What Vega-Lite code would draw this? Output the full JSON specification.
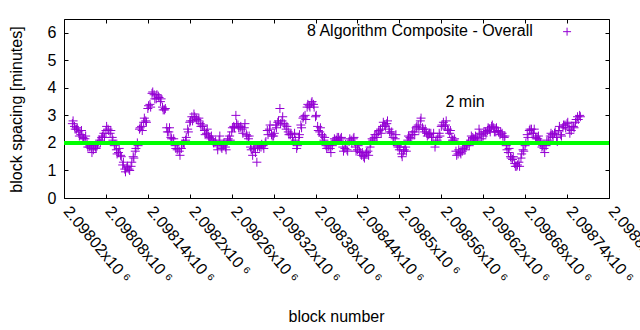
{
  "$schema": "https://vega.github.io/schema/vega-lite/v6.json",
  "width": 545,
  "height": 179,
  "autosize": {"type": "none"},
  "padding": {"left": 64, "top": 19, "right": 31, "bottom": 132},
  "background": "white",
  "config": {
    "view": {"stroke": "black", "strokeWidth": 1},
    "font": "Liberation Sans",
    "axis": {"grid": false, "domain": false, "tickColor": "black", "labelColor": "black", "titleColor": "black", "labelFont": "Liberation Sans", "titleFont": "Liberation Sans", "labelFontSize": 16, "titleFontSize": 16, "titleFontWeight": "normal", "labelOverlap": false, "labelBound": false, "labelFlush": false}
  },
  "datasets": {
    "pts": [
      {"b":2098032,"v":2.7},{"b":2098035,"v":2.6},{"b":2098038,"v":2.5},{"b":2098041,"v":2.4},{"b":2098044,"v":2.3},{"b":2098047,"v":2.2},{"b":2098050,"v":2.15},{"b":2098053,"v":1.95},{"b":2098056,"v":1.85},{"b":2098059,"v":1.8},
      {"b":2098062,"v":1.75},{"b":2098065,"v":1.85},{"b":2098068,"v":1.95},{"b":2098071,"v":2.1},{"b":2098074,"v":2.2},{"b":2098077,"v":2.35},{"b":2098080,"v":2.45},{"b":2098083,"v":2.5},{"b":2098086,"v":2.35},{"b":2098089,"v":2.2},
      {"b":2098092,"v":1.9},{"b":2098095,"v":1.75},{"b":2098098,"v":1.65},{"b":2098101,"v":1.55},{"b":2098104,"v":1.2},{"b":2098107,"v":1.05},{"b":2098110,"v":1.1},{"b":2098113,"v":1.05},{"b":2098116,"v":1.15},{"b":2098119,"v":1.5},
      {"b":2098122,"v":1.7},{"b":2098125,"v":2.0},{"b":2098128,"v":2.5},{"b":2098131,"v":2.6},{"b":2098134,"v":2.75},{"b":2098137,"v":2.8},{"b":2098140,"v":3.25},{"b":2098143,"v":3.4},{"b":2098146,"v":3.8},{"b":2098149,"v":3.75},
      {"b":2098152,"v":3.6},{"b":2098155,"v":3.7},{"b":2098158,"v":3.5},{"b":2098161,"v":3.3},{"b":2098164,"v":3.2},{"b":2098167,"v":2.55},{"b":2098170,"v":2.4},{"b":2098173,"v":2.2},{"b":2098176,"v":2.05},{"b":2098179,"v":1.9},
      {"b":2098182,"v":1.75},{"b":2098185,"v":1.7},{"b":2098188,"v":1.8},{"b":2098191,"v":2.0},{"b":2098194,"v":2.1},{"b":2098197,"v":2.5},{"b":2098200,"v":2.75},{"b":2098203,"v":2.95},{"b":2098206,"v":3.05},{"b":2098209,"v":2.9},
      {"b":2098212,"v":2.8},{"b":2098215,"v":2.7},{"b":2098218,"v":2.6},{"b":2098221,"v":2.45},{"b":2098224,"v":2.35},{"b":2098227,"v":2.25},{"b":2098230,"v":2.15},{"b":2098233,"v":2.1},{"b":2098236,"v":2.0},{"b":2098239,"v":1.9},
      {"b":2098242,"v":2.1},{"b":2098245,"v":1.85},{"b":2098248,"v":1.9},{"b":2098251,"v":1.85},{"b":2098254,"v":2.1},{"b":2098257,"v":2.25},{"b":2098260,"v":2.4},{"b":2098263,"v":2.6},{"b":2098266,"v":3.0},{"b":2098269,"v":2.65},
      {"b":2098272,"v":2.55},{"b":2098275,"v":2.5},{"b":2098278,"v":2.55},{"b":2098281,"v":2.3},{"b":2098284,"v":2.15},{"b":2098287,"v":1.85},{"b":2098290,"v":1.55},{"b":2098293,"v":1.8},{"b":2098296,"v":1.3},{"b":2098299,"v":1.9},
      {"b":2098302,"v":1.85},{"b":2098305,"v":1.9},{"b":2098308,"v":2.0},{"b":2098311,"v":2.45},{"b":2098314,"v":2.5},{"b":2098317,"v":2.3},{"b":2098320,"v":2.25},{"b":2098323,"v":2.65},{"b":2098326,"v":2.75},{"b":2098329,"v":3.25},
      {"b":2098332,"v":2.8},{"b":2098335,"v":2.7},{"b":2098338,"v":2.5},{"b":2098341,"v":2.4},{"b":2098344,"v":2.3},{"b":2098347,"v":2.2},{"b":2098350,"v":2.35},{"b":2098353,"v":1.8},{"b":2098356,"v":2.2},{"b":2098359,"v":2.65},
      {"b":2098362,"v":2.9},{"b":2098365,"v":3.0},{"b":2098368,"v":3.3},{"b":2098371,"v":3.35},{"b":2098374,"v":3.45},{"b":2098377,"v":3.4},{"b":2098380,"v":2.95},{"b":2098383,"v":2.6},{"b":2098386,"v":2.4},{"b":2098389,"v":2.3},
      {"b":2098392,"v":2.1},{"b":2098395,"v":1.9},{"b":2098398,"v":1.85},{"b":2098401,"v":1.8},{"b":2098404,"v":1.9},{"b":2098407,"v":2.15},{"b":2098410,"v":2.1},{"b":2098413,"v":2.2},{"b":2098416,"v":2.15},{"b":2098419,"v":1.85},
      {"b":2098422,"v":1.8},{"b":2098425,"v":1.75},{"b":2098428,"v":2.05},{"b":2098431,"v":2.1},{"b":2098434,"v":2.15},{"b":2098437,"v":1.85},{"b":2098440,"v":1.75},{"b":2098443,"v":1.7},{"b":2098446,"v":1.55},{"b":2098449,"v":1.5},
      {"b":2098452,"v":1.6},{"b":2098455,"v":1.7},{"b":2098458,"v":1.85},{"b":2098461,"v":2.15},{"b":2098464,"v":2.2},{"b":2098467,"v":2.3},{"b":2098470,"v":2.4},{"b":2098473,"v":2.5},{"b":2098476,"v":2.6},{"b":2098479,"v":2.65},
      {"b":2098482,"v":2.7},{"b":2098485,"v":2.5},{"b":2098488,"v":2.35},{"b":2098491,"v":2.2},{"b":2098494,"v":2.15},{"b":2098497,"v":1.9},{"b":2098500,"v":1.75},{"b":2098503,"v":1.6},{"b":2098506,"v":1.7},{"b":2098509,"v":1.85},
      {"b":2098512,"v":2.1},{"b":2098515,"v":2.2},{"b":2098518,"v":2.3},{"b":2098521,"v":2.4},{"b":2098524,"v":2.55},{"b":2098527,"v":2.65},{"b":2098530,"v":2.8},{"b":2098533,"v":2.55},{"b":2098536,"v":2.4},{"b":2098539,"v":2.35},
      {"b":2098542,"v":2.3},{"b":2098545,"v":2.35},{"b":2098548,"v":2.2},{"b":2098551,"v":1.85},{"b":2098554,"v":2.1},{"b":2098557,"v":2.35},{"b":2098560,"v":2.6},{"b":2098563,"v":2.75},{"b":2098566,"v":2.65},{"b":2098569,"v":2.5},
      {"b":2098572,"v":2.35},{"b":2098575,"v":2.2},{"b":2098578,"v":2.1},{"b":2098581,"v":1.7},{"b":2098584,"v":1.6},{"b":2098587,"v":1.65},{"b":2098590,"v":1.7},{"b":2098593,"v":1.85},{"b":2098596,"v":1.9},{"b":2098599,"v":2.05},
      {"b":2098602,"v":2.1},{"b":2098605,"v":2.2},{"b":2098608,"v":2.15},{"b":2098611,"v":2.2},{"b":2098614,"v":2.5},{"b":2098617,"v":2.3},{"b":2098620,"v":2.25},{"b":2098623,"v":2.4},{"b":2098626,"v":2.45},{"b":2098629,"v":2.5},
      {"b":2098632,"v":2.6},{"b":2098635,"v":2.55},{"b":2098638,"v":2.4},{"b":2098641,"v":2.45},{"b":2098644,"v":2.3},{"b":2098647,"v":2.35},{"b":2098650,"v":2.2},{"b":2098653,"v":1.9},{"b":2098656,"v":1.65},{"b":2098659,"v":1.5},
      {"b":2098662,"v":1.4},{"b":2098665,"v":1.25},{"b":2098668,"v":1.15},{"b":2098671,"v":1.3},{"b":2098674,"v":1.45},{"b":2098677,"v":1.75},{"b":2098680,"v":1.9},{"b":2098683,"v":2.3},{"b":2098686,"v":2.45},{"b":2098689,"v":2.5},
      {"b":2098692,"v":2.35},{"b":2098695,"v":2.2},{"b":2098698,"v":2.15},{"b":2098701,"v":2.1},{"b":2098704,"v":1.85},{"b":2098707,"v":1.8},{"b":2098710,"v":1.9},{"b":2098713,"v":2.1},{"b":2098716,"v":2.25},{"b":2098719,"v":2.3},
      {"b":2098722,"v":2.35},{"b":2098725,"v":2.2},{"b":2098728,"v":2.45},{"b":2098731,"v":2.3},{"b":2098734,"v":2.55},{"b":2098737,"v":2.65},{"b":2098740,"v":2.7},{"b":2098743,"v":2.5},{"b":2098746,"v":2.45},{"b":2098749,"v":2.6},
      {"b":2098752,"v":2.75},{"b":2098755,"v":2.95},{"b":2098758,"v":3.0},
      {"b":2098033,"v":2.8},{"b":2098036,"v":2.5},{"b":2098039,"v":2.55},{"b":2098042,"v":2.25},{"b":2098045,"v":2.45},{"b":2098048,"v":2.15},{"b":2098051,"v":2.25},{"b":2098054,"v":1.85},{"b":2098057,"v":1.9},{"b":2098060,"v":1.65},
      {"b":2098063,"v":1.9},{"b":2098066,"v":1.8},{"b":2098069,"v":2.05},{"b":2098072,"v":2.0},{"b":2098075,"v":2.25},{"b":2098078,"v":2.2},{"b":2098081,"v":2.6},{"b":2098084,"v":2.45},{"b":2098087,"v":2.45},{"b":2098090,"v":2.1},
      {"b":2098093,"v":1.95},{"b":2098096,"v":1.6},{"b":2098099,"v":1.8},{"b":2098102,"v":1.5},{"b":2098105,"v":1.3},{"b":2098108,"v":0.95},{"b":2098111,"v":1.15},{"b":2098114,"v":1.0},{"b":2098117,"v":1.3},{"b":2098120,"v":1.45},
      {"b":2098123,"v":1.8},{"b":2098126,"v":1.9},{"b":2098129,"v":2.55},{"b":2098132,"v":2.45},{"b":2098135,"v":2.9},{"b":2098138,"v":2.75},{"b":2098141,"v":3.35},{"b":2098144,"v":3.3},{"b":2098147,"v":3.85},{"b":2098150,"v":3.6},
      {"b":2098153,"v":3.75},{"b":2098156,"v":3.65},{"b":2098159,"v":3.6},{"b":2098162,"v":3.2},{"b":2098165,"v":3.25},{"b":2098168,"v":2.4},{"b":2098171,"v":2.55},{"b":2098174,"v":2.15},{"b":2098177,"v":2.15},{"b":2098180,"v":1.8},
      {"b":2098183,"v":1.8},{"b":2098186,"v":1.55},{"b":2098189,"v":1.95},{"b":2098192,"v":1.95},{"b":2098195,"v":2.2},{"b":2098198,"v":2.4},{"b":2098201,"v":2.8},{"b":2098204,"v":2.8},{"b":2098207,"v":2.95},{"b":2098210,"v":2.85},
      {"b":2098213,"v":2.9},{"b":2098216,"v":2.6},{"b":2098219,"v":2.65},{"b":2098222,"v":2.3},{"b":2098225,"v":2.5},{"b":2098228,"v":2.2},{"b":2098231,"v":2.25},{"b":2098234,"v":2.0},{"b":2098237,"v":2.05},{"b":2098240,"v":1.75},
      {"b":2098243,"v":2.25},{"b":2098246,"v":1.8},{"b":2098249,"v":2.0},{"b":2098252,"v":1.75},{"b":2098255,"v":2.15},{"b":2098258,"v":2.1},{"b":2098261,"v":2.55},{"b":2098264,"v":2.55},{"b":2098267,"v":2.7},{"b":2098270,"v":2.55},
      {"b":2098273,"v":2.6},{"b":2098276,"v":2.35},{"b":2098279,"v":2.7},{"b":2098282,"v":2.25},{"b":2098285,"v":2.25},{"b":2098288,"v":1.75},{"b":2098291,"v":1.8},{"b":2098294,"v":1.65},{"b":2098297,"v":1.85},{"b":2098300,"v":1.85},
      {"b":2098303,"v":1.95},{"b":2098306,"v":1.8},{"b":2098309,"v":2.05},{"b":2098312,"v":2.3},{"b":2098315,"v":2.65},{"b":2098318,"v":2.25},{"b":2098321,"v":2.35},{"b":2098324,"v":2.55},{"b":2098327,"v":2.8},{"b":2098330,"v":2.7},
      {"b":2098333,"v":2.95},{"b":2098336,"v":2.65},{"b":2098339,"v":2.6},{"b":2098342,"v":2.3},{"b":2098345,"v":2.35},{"b":2098348,"v":2.05},{"b":2098351,"v":2.1},{"b":2098354,"v":1.9},{"b":2098357,"v":2.3},{"b":2098360,"v":2.55},
      {"b":2098363,"v":2.95},{"b":2098366,"v":2.85},{"b":2098369,"v":3.4},{"b":2098372,"v":3.3},{"b":2098375,"v":3.5},{"b":2098378,"v":3.3},{"b":2098381,"v":3.0},{"b":2098384,"v":2.45},{"b":2098387,"v":2.55},{"b":2098390,"v":2.25},
      {"b":2098393,"v":2.2},{"b":2098396,"v":1.8},{"b":2098399,"v":1.9},{"b":2098402,"v":1.65},{"b":2098405,"v":2.05},{"b":2098408,"v":2.1},{"b":2098411,"v":2.2},{"b":2098414,"v":2.1},{"b":2098417,"v":2.2},{"b":2098420,"v":1.7},
      {"b":2098423,"v":1.95},{"b":2098426,"v":1.7},{"b":2098429,"v":2.15},{"b":2098432,"v":2.0},{"b":2098435,"v":2.2},{"b":2098438,"v":1.7},{"b":2098441,"v":1.9},{"b":2098444,"v":1.65},{"b":2098447,"v":1.65},{"b":2098450,"v":1.45},
      {"b":2098453,"v":1.65},{"b":2098456,"v":1.55},{"b":2098459,"v":2.0},{"b":2098462,"v":2.1},{"b":2098465,"v":2.3},{"b":2098468,"v":2.2},{"b":2098471,"v":2.45},{"b":2098474,"v":2.35},{"b":2098477,"v":2.75},{"b":2098480,"v":2.6},
      {"b":2098483,"v":2.8},{"b":2098486,"v":2.4},{"b":2098489,"v":2.4},{"b":2098492,"v":2.05},{"b":2098495,"v":2.3},{"b":2098498,"v":1.85},{"b":2098501,"v":1.85},{"b":2098504,"v":1.5},{"b":2098507,"v":1.75},{"b":2098510,"v":1.7},
      {"b":2098513,"v":2.25},{"b":2098516,"v":2.15},{"b":2098519,"v":2.4},{"b":2098522,"v":2.3},{"b":2098525,"v":2.6},{"b":2098528,"v":2.5},{"b":2098531,"v":2.9},{"b":2098534,"v":2.5},{"b":2098537,"v":2.5},{"b":2098540,"v":2.25},
      {"b":2098543,"v":2.35},{"b":2098546,"v":2.2},{"b":2098549,"v":2.35},{"b":2098552,"v":2.05},{"b":2098555,"v":2.2},{"b":2098558,"v":2.25},{"b":2098561,"v":2.65},{"b":2098564,"v":2.6},{"b":2098567,"v":2.8},{"b":2098570,"v":2.45},
      {"b":2098573,"v":2.45},{"b":2098576,"v":2.1},{"b":2098579,"v":2.15},{"b":2098582,"v":1.55},{"b":2098585,"v":1.75},{"b":2098588,"v":1.6},{"b":2098591,"v":1.8},{"b":2098594,"v":1.75},{"b":2098597,"v":1.95},{"b":2098600,"v":1.9},
      {"b":2098603,"v":2.25},{"b":2098606,"v":2.15},{"b":2098609,"v":2.25},{"b":2098612,"v":2.1},{"b":2098615,"v":2.35},{"b":2098618,"v":2.15},{"b":2098621,"v":2.4},{"b":2098624,"v":2.35},{"b":2098627,"v":2.55},{"b":2098630,"v":2.4},
      {"b":2098633,"v":2.65},{"b":2098636,"v":2.4},{"b":2098639,"v":2.55},{"b":2098642,"v":2.4},{"b":2098645,"v":2.4},{"b":2098648,"v":2.25},{"b":2098651,"v":2.25},{"b":2098654,"v":1.75},{"b":2098657,"v":1.8},{"b":2098660,"v":1.45},
      {"b":2098663,"v":1.5},{"b":2098666,"v":1.15},{"b":2098669,"v":1.2},{"b":2098672,"v":1.15},{"b":2098675,"v":1.6},{"b":2098678,"v":1.7},{"b":2098681,"v":2.0},{"b":2098684,"v":2.2},{"b":2098687,"v":2.5},{"b":2098690,"v":2.35},
      {"b":2098693,"v":2.5},{"b":2098696,"v":2.15},{"b":2098699,"v":2.25},{"b":2098702,"v":2.0},{"b":2098705,"v":1.9},{"b":2098708,"v":1.65},{"b":2098711,"v":2.05},{"b":2098714,"v":2.05},{"b":2098717,"v":2.35},{"b":2098720,"v":2.2},
      {"b":2098723,"v":2.4},{"b":2098726,"v":2.05},{"b":2098729,"v":2.6},{"b":2098732,"v":2.25},{"b":2098735,"v":2.65},{"b":2098738,"v":2.55},{"b":2098741,"v":2.75},{"b":2098744,"v":2.35},{"b":2098747,"v":2.6},{"b":2098750,"v":2.55},
      {"b":2098753,"v":2.85},{"b":2098756,"v":2.85},{"b":2098759,"v":2.95}
    ],
    "legend": [{"b": 2098691, "v": 5.89, "t": "8 Algorithm Composite - Overall"}],
    "legendsym": [{"b": 2098740, "v": 6.04}],
    "note": [{"b": 2098594, "v": 3.31, "t": "2 min"}],
    "target": [{"v": 2}]
  },
  "layer": [
    {
      "data": {"name": "pts"},
      "mark": {"type": "point", "shape": "M-1,0H1M0,-1V1", "filled": false, "strokeWidth": 1, "color": "#9400d3", "size": 81, "opacity": 1},
      "encoding": {
        "x": {"field": "b", "type": "quantitative", "scale": {"domain": [2098020, 2098800], "nice": false, "zero": false},
          "axis": {"orient": "bottom", "values": [2098020,2098080,2098140,2098200,2098260,2098320,2098380,2098440,2098500,2098560,2098620,2098680,2098740,2098800], "tickSize": -4, "labelAngle": 50, "labelAlign": "left", "labelBaseline": "middle", "labelPadding": 14, "labelOffset": 2, "labelFontSize": 16, "labelExpr": "format(datum.value/1000000, '.5~f') + 'x10 ⁶'", "title": "block number", "titleX": 272, "titleY": 123, "titleBaseline": "alphabetic", "titleAlign": "center"}},
        "y": {"field": "v", "type": "quantitative", "scale": {"domain": [0, 6.5], "nice": false},
          "axis": {"orient": "left", "values": [0,1,2,3,4,5,6], "tickSize": -4, "labelPadding": 12, "title": "block spacing [minutes]", "titleX": -43, "titleY": 90, "titleAngle": -90, "titleBaseline": "alphabetic", "titleAlign": "center"}}
      }
    },
    {
      "data": {"name": "pts"},
      "mark": {"type": "point", "opacity": 0},
      "encoding": {
        "x": {"field": "b", "type": "quantitative", "axis": {"orient": "top", "values": [2098020,2098080,2098140,2098200,2098260,2098320,2098380,2098440,2098500,2098560,2098620,2098680,2098740,2098800], "tickSize": -4, "labels": false, "title": null}},
        "y": {"field": "v", "type": "quantitative", "axis": {"orient": "right", "values": [0,1,2,3,4,5,6], "tickSize": -4, "labels": false, "title": null}}
      }
    },
    {
      "data": {"name": "target"},
      "mark": {"type": "rule", "color": "#00ff00", "strokeWidth": 4},
      "encoding": {"y": {"field": "v", "type": "quantitative", "axis": null}}
    },
    {
      "data": {"name": "legend"},
      "mark": {"type": "text", "align": "right", "baseline": "alphabetic", "fontSize": 16, "font": "Liberation Sans", "color": "black"},
      "encoding": {"x": {"field": "b", "type": "quantitative", "axis": null}, "y": {"field": "v", "type": "quantitative", "axis": null}, "text": {"field": "t"}}
    },
    {
      "data": {"name": "legendsym"},
      "mark": {"type": "point", "shape": "M-1,0H1M0,-1V1", "filled": false, "strokeWidth": 1, "color": "#9400d3", "size": 64, "opacity": 1},
      "encoding": {"x": {"field": "b", "type": "quantitative", "axis": null}, "y": {"field": "v", "type": "quantitative", "axis": null}}
    },
    {
      "data": {"name": "note"},
      "mark": {"type": "text", "align": "center", "baseline": "alphabetic", "fontSize": 16, "font": "Liberation Sans", "color": "black"},
      "encoding": {"x": {"field": "b", "type": "quantitative", "axis": null}, "y": {"field": "v", "type": "quantitative", "axis": null}, "text": {"field": "t"}}
    }
  ],
  "resolve": {"axis": {"x": "independent", "y": "independent"}}
}
